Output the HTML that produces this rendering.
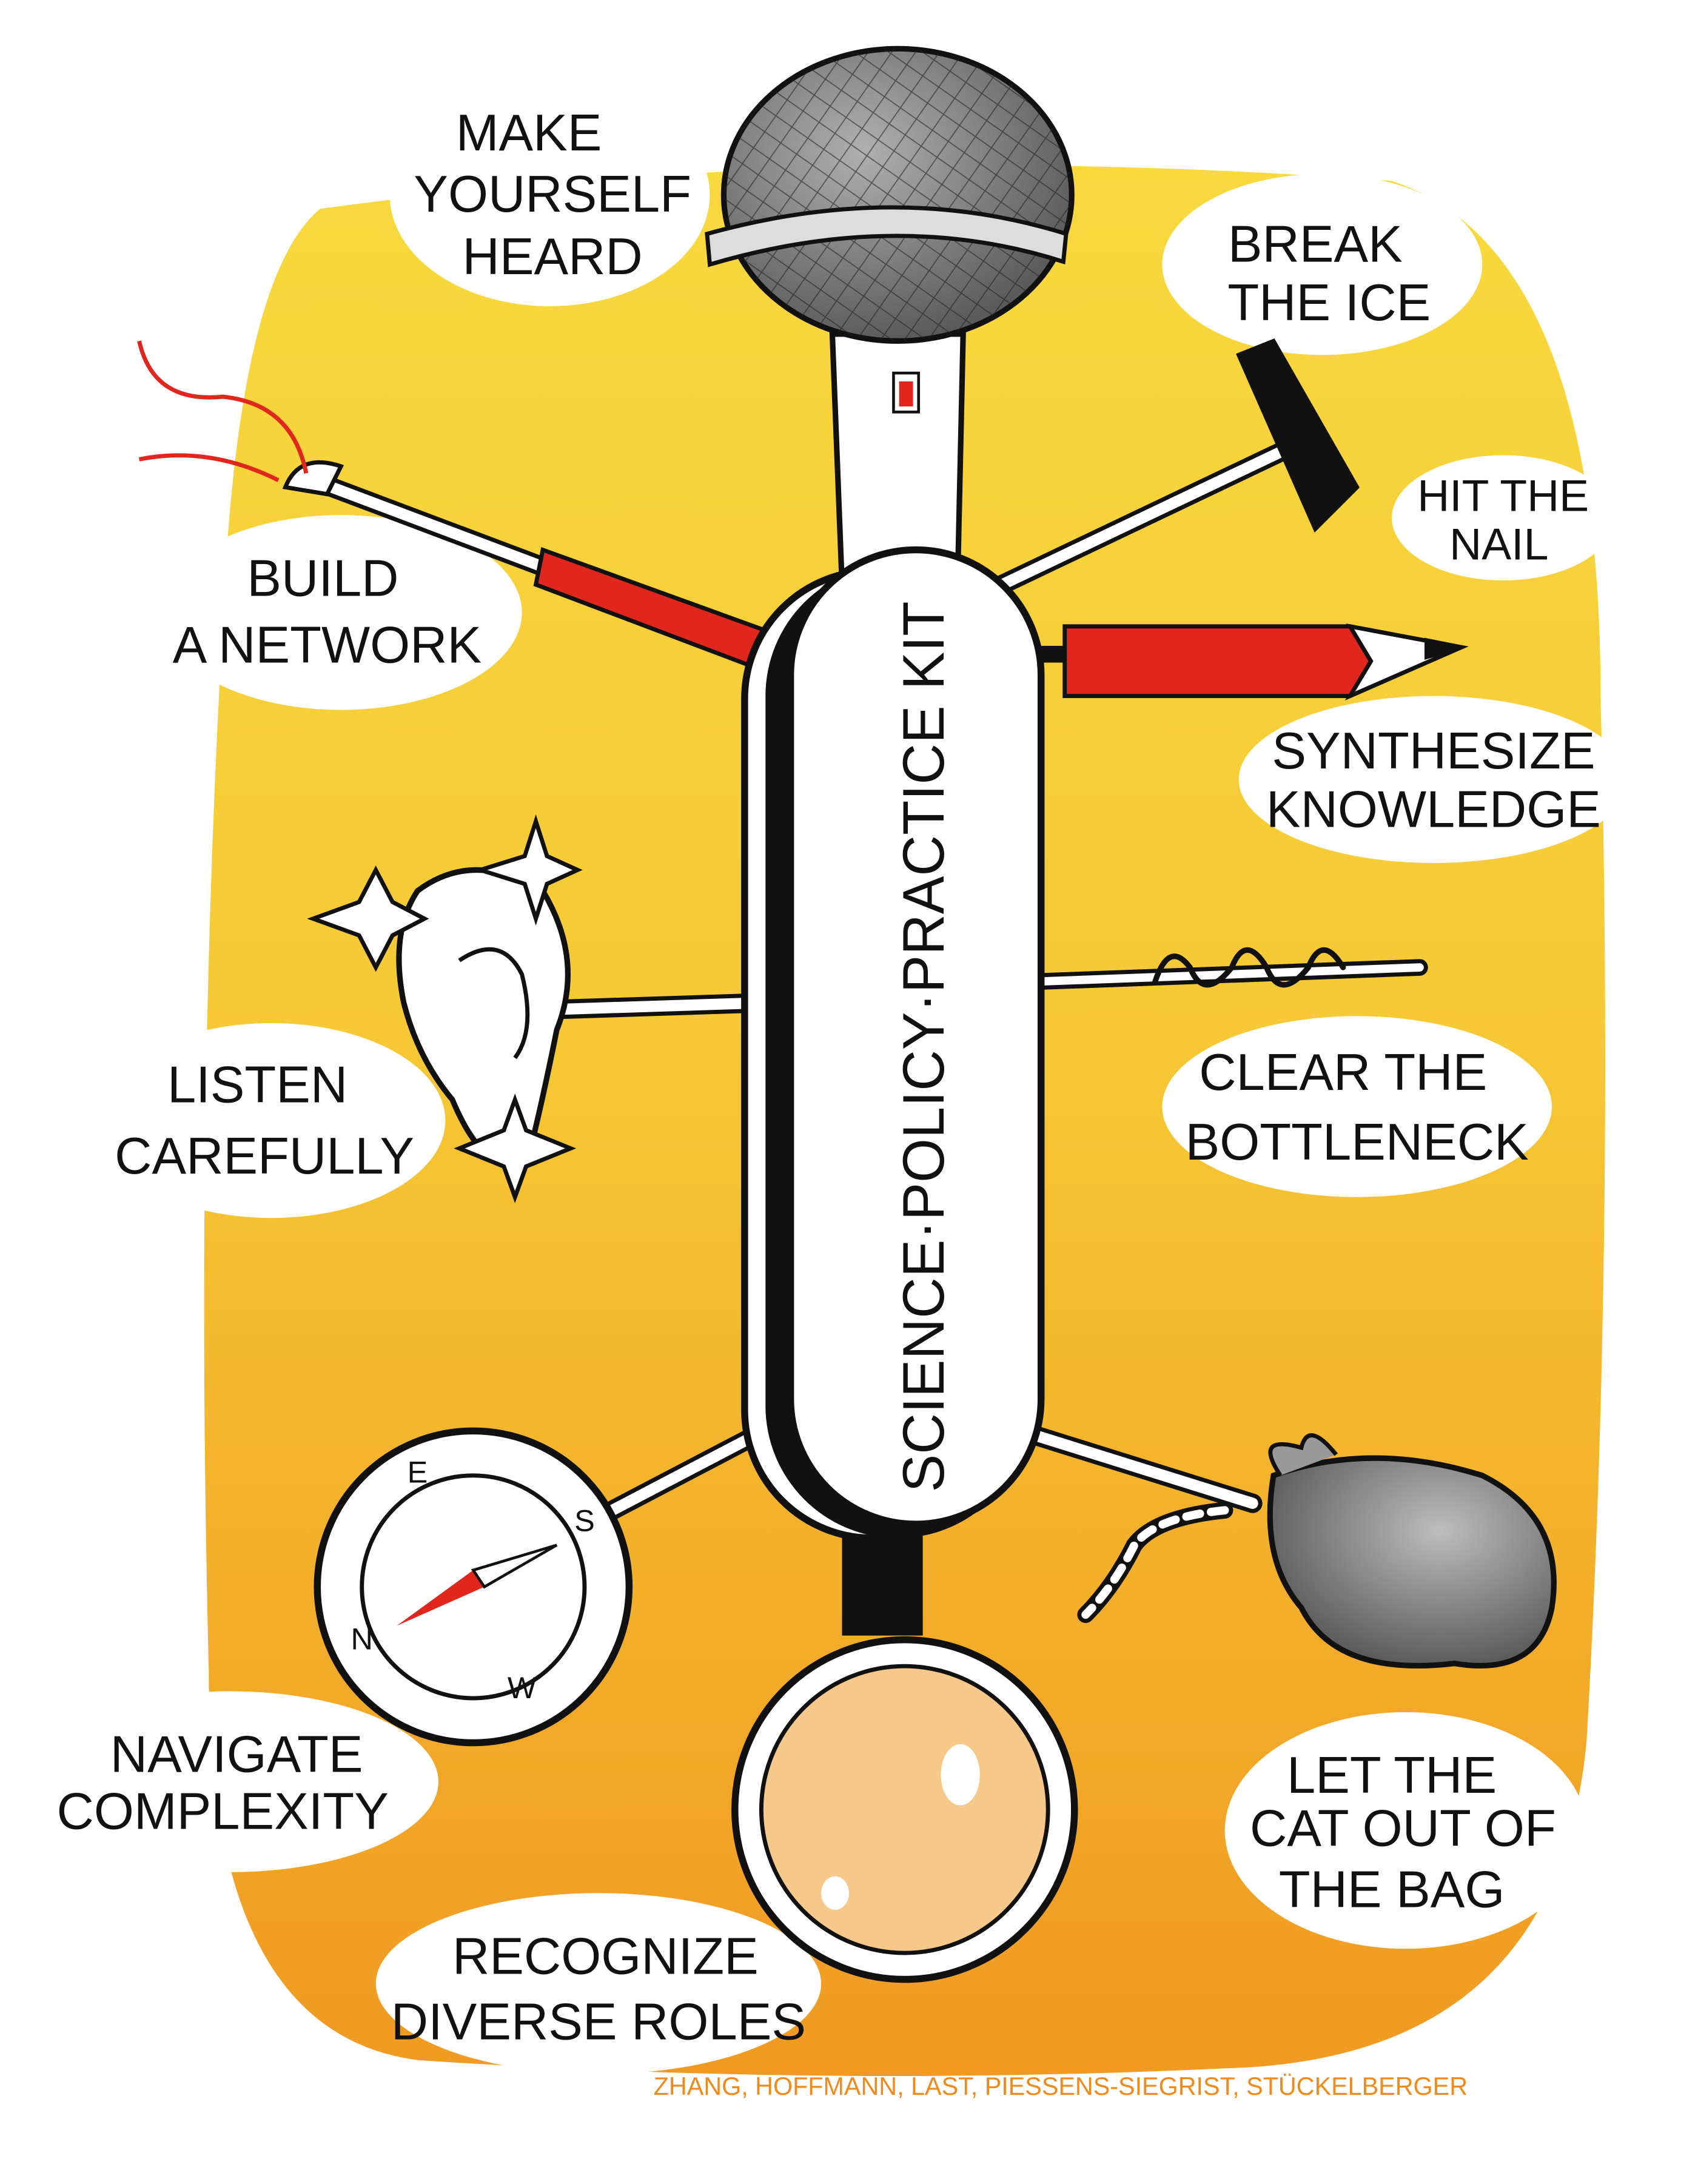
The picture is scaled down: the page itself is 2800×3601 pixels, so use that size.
<!DOCTYPE html>
<html><head><meta charset="utf-8"><style>
html,body{margin:0;padding:0;background:#fff;}
svg{display:block;}
text{font-family:"Liberation Sans",sans-serif;fill:#111;text-anchor:middle;}
</style></head><body>
<svg width="2800" height="3601" viewBox="0 0 1220 1569" preserveAspectRatio="none" xmlns="http://www.w3.org/2000/svg">
<defs>
<linearGradient id="bg" x1="0" y1="0" x2="0" y2="1">
<stop offset="0" stop-color="#f8d93e"/><stop offset="0.45" stop-color="#f6c935"/><stop offset="0.75" stop-color="#f3ae2a"/><stop offset="1" stop-color="#f09a22"/></linearGradient>
<radialGradient id="mic" cx="0.4" cy="0.35" r="0.7"><stop offset="0" stop-color="#b0b0b0"/><stop offset="1" stop-color="#555"/></radialGradient>
<radialGradient id="bag" cx="0.6" cy="0.35" r="0.7"><stop offset="0" stop-color="#bdbdbd"/><stop offset="1" stop-color="#555"/></radialGradient>
<pattern id="hatch" width="14" height="14" patternUnits="userSpaceOnUse" patternTransform="rotate(35)"><path d="M0 0V14M0 0H14" stroke="#222" stroke-width="1.5"/></pattern>
</defs>
<rect width="1220" height="1569" fill="#fff"/>
<path d="M230 150 Q600 100 1000 130 Q1150 180 1150 500 Q1160 900 1140 1250 Q1120 1470 900 1485 Q600 1500 300 1480 Q150 1460 150 1200 Q140 800 160 450 Q170 200 230 150Z" fill="url(#bg)"/>
<!-- clouds -->
<g fill="#fff">
<ellipse cx="395" cy="140" rx="115" ry="80"/>
<ellipse cx="950" cy="190" rx="115" ry="65"/>
<ellipse cx="1080" cy="372" rx="80" ry="45"/>
<ellipse cx="245" cy="440" rx="130" ry="70"/>
<ellipse cx="1030" cy="560" rx="140" ry="60"/>
<ellipse cx="195" cy="805" rx="125" ry="70"/>
<ellipse cx="975" cy="795" rx="140" ry="65"/>
<ellipse cx="165" cy="1280" rx="150" ry="65"/>
<ellipse cx="1010" cy="1315" rx="130" ry="85"/>
<ellipse cx="430" cy="1425" rx="160" ry="65"/>
</g>
<!-- arms -->
<g stroke="#111" stroke-width="3" stroke-linecap="round">
<line x1="225" y1="345" x2="570" y2="475" stroke-width="14"/>
<line x1="225" y1="345" x2="570" y2="475" stroke="#fff" stroke-width="8"/>
<path d="M390 395 L575 462 L565 488 L385 420Z" fill="#e0261d"/>
<path d="M205 350 Q215 325 245 335 L235 355Z" fill="#fff"/>
<line x1="720" y1="420" x2="930" y2="320" stroke-width="14"/>
<line x1="720" y1="420" x2="930" y2="320" stroke="#fff" stroke-width="8"/>
<path d="M890 255 L915 245 L975 350 L945 380Z" fill="#111"/>
<line x1="740" y1="470" x2="770" y2="470" stroke-width="12"/>
<path d="M765 450 L970 450 L1050 465 L970 500 L765 500Z" fill="#e0261d"/>
<path d="M970 450 L1050 465 L970 500 L985 475Z" fill="#fff"/>
<path d="M1025 460 L1050 465 L1025 472Z" fill="#111"/>
<line x1="405" y1="725" x2="560" y2="720" stroke-width="14"/>
<line x1="405" y1="725" x2="560" y2="720" stroke="#fff" stroke-width="8"/>
<line x1="750" y1="705" x2="1020" y2="695" stroke-width="12"/>
<line x1="750" y1="705" x2="1020" y2="695" stroke="#fff" stroke-width="6"/>
<path d="M830 705 q10 -30 25 -10 q10 25 30 0 q10 -25 25 0 q10 25 30 0 q10 -25 25 0" fill="none" stroke-width="4"/>
<line x1="440" y1="1085" x2="545" y2="1030" stroke-width="14"/>
<line x1="440" y1="1085" x2="545" y2="1030" stroke="#fff" stroke-width="8"/>
<line x1="740" y1="1030" x2="900" y2="1080" stroke-width="14"/>
<line x1="740" y1="1030" x2="900" y2="1080" stroke="#fff" stroke-width="8"/>
</g>
<path d="M100 245 Q110 290 160 285 Q210 290 220 340 M100 330 Q150 320 200 345" fill="none" stroke="#e0261d" stroke-width="3"/>
<!-- ear -->
<path d="M300 640 Q340 610 390 640 Q420 690 400 740 Q390 790 380 830 Q350 850 325 790 Q300 760 290 720 Q280 670 300 640Z" fill="#fff" stroke="#111" stroke-width="4"/>
<path d="M330 690 Q360 670 375 700 Q385 740 370 760" fill="none" stroke="#111" stroke-width="3"/>
<g stroke="#111" stroke-width="3" fill="#fff">
<path d="M270 625 L282 648 L305 660 L282 672 L270 695 L258 672 L225 660 L258 648Z"/>
<path d="M385 590 L393 615 L415 625 L393 635 L385 660 L377 635 L345 625 L377 615Z"/>
<path d="M370 790 L378 812 L410 825 L378 838 L370 860 L362 838 L330 825 L362 812Z"/>
</g>
<!-- compass -->
<circle cx="340" cy="1140" r="112" fill="#fff" stroke="#111" stroke-width="5"/>
<circle cx="340" cy="1140" r="80" fill="#fff" stroke="#111" stroke-width="3"/>
<path d="M285 1168 L340 1128 L348 1140Z" fill="#e0261d"/>
<path d="M340 1128 L400 1110 L348 1140Z" fill="#fff" stroke="#111" stroke-width="2"/>
<g font-size="22"><text x="300" y="1065">E</text><text x="420" y="1100">S</text><text x="260" y="1185">N</text><text x="375" y="1220">W</text></g>
<!-- bag -->
<path d="M915 1060 Q985 1035 1065 1060 Q1125 1090 1115 1155 Q1105 1205 1045 1195 Q960 1205 935 1155 Q905 1120 915 1060Z" fill="url(#bag)" stroke="#111" stroke-width="4"/>
<path d="M920 1060 Q900 1030 935 1040 Q940 1020 960 1045" fill="#999" stroke="#111" stroke-width="3"/>
<path d="M880 1085 Q830 1090 815 1110 Q800 1140 780 1160" fill="none" stroke="#111" stroke-width="12" stroke-linecap="round"/>
<path d="M880 1085 Q830 1090 815 1110 Q800 1140 780 1160" fill="none" stroke="#fff" stroke-width="6" stroke-dasharray="10 8" stroke-linecap="round"/>
<!-- mic -->
<path d="M598 240 L692 240 L688 420 L605 420Z" fill="#fff" stroke="#111" stroke-width="4"/>
<rect x="642" y="268" width="18" height="28" fill="#fff" stroke="#111" stroke-width="2"/>
<rect x="646" y="274" width="10" height="18" fill="#e0261d"/>
<ellipse cx="645" cy="140" rx="125" ry="105" fill="url(#mic)" stroke="#111" stroke-width="4"/>
<ellipse cx="645" cy="140" rx="125" ry="105" fill="url(#hatch)" opacity="0.6"/>
<path d="M508 168 Q645 130 766 168 L764 188 Q645 150 510 190Z" fill="#ddd" stroke="#111" stroke-width="3"/>
<!-- magnifier -->
<rect x="605" y="1100" width="58" height="75" fill="#111"/>
<circle cx="650" cy="1300" r="122" fill="#fff" stroke="#111" stroke-width="5"/>
<circle cx="650" cy="1300" r="103" fill="#f6c98a" stroke="#111" stroke-width="3"/>
<ellipse cx="690" cy="1275" rx="14" ry="22" fill="#fff"/>
<ellipse cx="600" cy="1360" rx="10" ry="12" fill="#fff"/>
<!-- body -->
<rect x="535" y="410" width="185" height="695" rx="92" fill="#fff" stroke="#111" stroke-width="5"/>
<rect x="550" y="405" width="190" height="700" rx="95" fill="#111"/>
<rect x="568" y="395" width="180" height="700" rx="90" fill="#fff" stroke="#111" stroke-width="5"/>
<text x="0" y="0" font-size="42" transform="translate(678,752) rotate(-90)" textLength="640" lengthAdjust="spacingAndGlyphs">SCIENCE·POLICY·PRACTICE KIT</text>
<!-- labels -->
<g font-size="37">
<text x="380" y="108">MAKE</text><text x="397" y="152">YOURSELF</text><text x="397" y="197">HEARD</text>
<text x="945" y="188">BREAK</text><text x="955" y="230">THE ICE</text>
<text x="232" y="428">BUILD</text><text x="235" y="476">A NETWORK</text>
<text x="1030" y="552">SYNTHESIZE</text><text x="1030" y="594">KNOWLEDGE</text>
<text x="185" y="792">LISTEN</text><text x="190" y="843">CAREFULLY</text>
<text x="965" y="783">CLEAR THE</text><text x="975" y="833">BOTTLENECK</text>
<text x="170" y="1273">NAVIGATE</text><text x="160" y="1314">COMPLEXITY</text>
<text x="1000" y="1288">LET THE</text><text x="1008" y="1326">CAT OUT OF</text><text x="1000" y="1370">THE BAG</text>
<text x="435" y="1418">RECOGNIZE</text><text x="430" y="1465">DIVERSE ROLES</text>
</g>
<g font-size="32"><text x="1080" y="367">HIT THE</text><text x="1077" y="402">NAIL</text></g>
<text x="762" y="1505" font-size="18" style="fill:#f08a1a">ZHANG, HOFFMANN, LAST, PIESSENS-SIEGRIST, STÜCKELBERGER</text>
</svg>
</body></html>
